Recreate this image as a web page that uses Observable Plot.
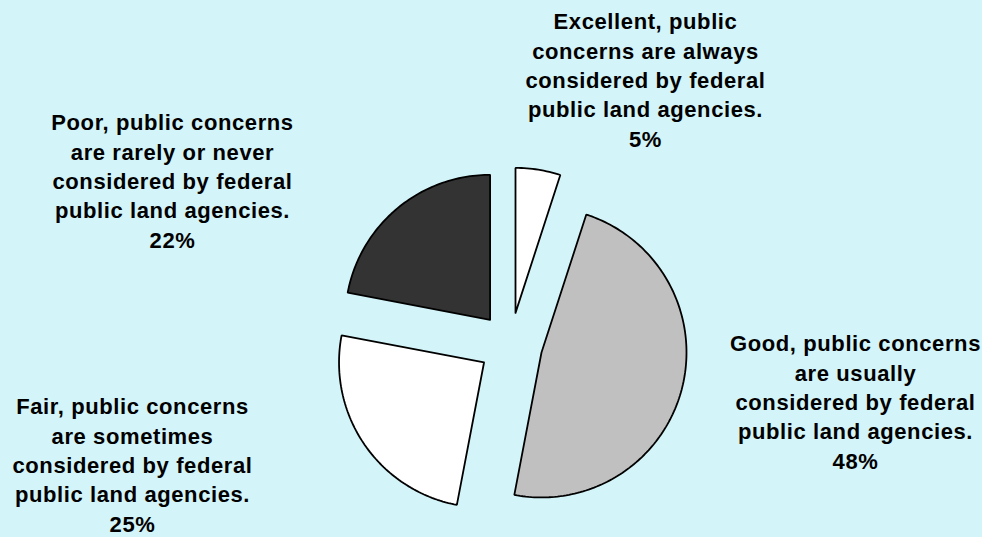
<!DOCTYPE html>
<html>
<head>
<meta charset="utf-8">
<script src="https://cdn.jsdelivr.net/npm/d3@7"></script>
<script src="https://cdn.jsdelivr.net/npm/@observablehq/plot@0.6"></script>
<style>
  html, body { margin: 0; padding: 0; background: #d3f4f8; }
  #chart svg text { letter-spacing: 0.6px; }
</style>
</head>
<body>
<div id="chart"></div>
<script>
// ---- data ----
const categories = ["Excellent", "Good", "Fair", "Poor"];
const values = [5, 48, 25, 22];
const labels = [
  "Excellent, public\nconcerns are always\nconsidered by federal\npublic land agencies.",
  "Good, public concerns\nare usually\nconsidered by federal\npublic land agencies.",
  "Fair, public concerns\nare sometimes\nconsidered by federal\npublic land agencies.",
  "Poor, public concerns\nare rarely or never\nconsidered by federal\npublic land agencies."
];
const colors = ["#ffffff", "#c0c0c0", "#ffffff", "#333333"];

// ---- layout ----
const W = 982, H = 537;
const cx = 510, cy = 344, R = 145, explode = 32;
// label block centres (layout, per category)
const labelPos = {
  Excellent: [645, 78],
  Good: [855, 400],
  Fair: [132, 463],
  Poor: [172, 179]
};

const total = d3.sum(values);
const arcs = d3.pie().sort(null).value((d, i) => values[i])(categories);

const pts = [];
arcs.forEach((a, i) => {
  const key = categories[i];
  const mid = (a.startAngle + a.endAngle) / 2;
  const ox = cx + explode * Math.sin(mid);
  const oy = cy - explode * Math.cos(mid);
  pts.push({key, x: ox, y: oy});
  const n = Math.max(4, Math.ceil((a.endAngle - a.startAngle) / 0.02));
  for (let k = 0; k <= n; k++) {
    const t = a.startAngle + (a.endAngle - a.startAngle) * k / n;
    pts.push({key, x: ox + R * Math.sin(t), y: oy - R * Math.cos(t)});
  }
  pts.push({key, x: ox, y: oy});
});

const labelData = categories.map((c, i) => ({
  key: c,
  text: labels[i] + "\n" + Math.round(values[i] / total * 100) + "%",
  x: labelPos[c][0],
  y: labelPos[c][1]
}));

const chart = Plot.plot({
  width: W,
  height: H,
  margin: 0,
  x: {domain: [0, W], range: [0, W], axis: null},
  y: {domain: [0, H], range: [0, H], axis: null},
  color: {domain: categories, range: colors},
  style: {background: "#d3f4f8", fontFamily: "'Liberation Sans', Arial, sans-serif"},
  marks: [
    Plot.line(pts, {
      x: "x", y: "y", z: "key", fill: "key",
      stroke: "black", strokeWidth: 1.8, strokeLinejoin: "miter", curve: "linear"
    }),
    Plot.text(labelData, {
      x: "x", y: "y", text: "text",
      fontSize: 22, fontWeight: "bold", fill: "black",
      lineHeight: 1.335, textAnchor: "middle", lineAnchor: "middle"
    })
  ]
});
document.getElementById("chart").appendChild(chart);
</script>
</body>
</html>
